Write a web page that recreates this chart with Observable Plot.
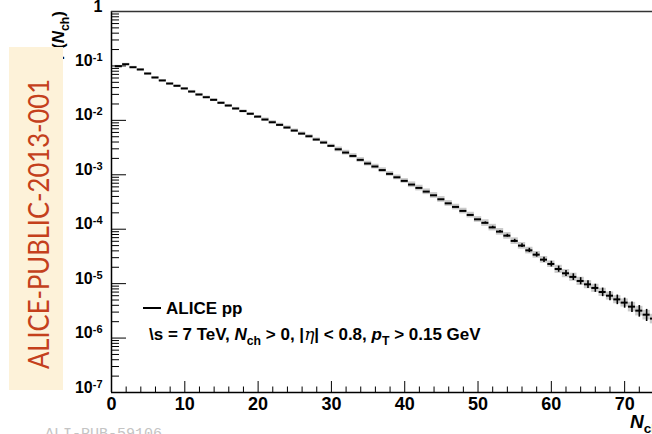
<!DOCTYPE html>
<html><head><meta charset="utf-8">
<script src="https://cdn.jsdelivr.net/npm/d3@7"></script>
<script src="https://cdn.jsdelivr.net/npm/@observablehq/plot@0.6"></script>
<style>body{margin:0;background:#fff} svg{display:block}</style>
</head><body><div id="chart"></div>
<script>
// ---- data ----
const nch = [1,2,3,4,5,6,7,8,9,10,11,12,13,14,15,16,17,18,19,20,21,22,23,24,25,26,27,28,29,30,31,32,33,34,35,36,37,38,39,40,41,42,43,44,45,46,47,48,49,50,51,52,53,54,55,56,57,58,59,60,61,62,63,64,65,66,67,68,69,70,71,72,73,74];
const prob = [0.0986,0.1074,0.0946,0.0859,0.0724,0.0612,0.0540,0.0474,0.0431,0.0385,
  0.0338,0.0298,0.0266,0.0238,0.0210,0.0187,0.0165,0.0148,0.0132,0.0117,
  0.01035,0.00923,0.00826,0.00738,0.00649,0.00571,0.00510,0.00444,0.00391,0.00340,
  0.00294,0.00256,0.00222,0.00188,0.00161,0.00142,0.00122,0.00104,0.000899,0.000773,
  0.000661,0.000574,0.000491,0.000420,0.000355,0.000299,0.000257,0.000217,0.000183,0.000152,
  0.000131,0.000108,0.0000904,0.0000762,0.0000610,0.0000500,0.0000409,0.0000341,0.0000276,0.0000230,
  0.0000186,0.0000155,0.0000133,0.0000112,0.00000971,0.00000834,0.00000703,0.00000601,0.00000514,0.00000448,
  0.00000378,0.00000319,0.00000269,0.00000228];
// relative systematic uncertainty (grey boxes)
const sysRel = [0.04,0.04,0.04,0.04,0.04,0.04,0.04,0.04,0.04,0.04,
  0.05,0.05,0.05,0.05,0.05,0.05,0.05,0.05,0.05,0.05,
  0.07,0.07,0.07,0.07,0.07,0.07,0.07,0.07,0.07,0.07,
  0.10,0.10,0.10,0.10,0.10,0.10,0.10,0.10,0.10,0.10,
  0.12,0.12,0.12,0.12,0.12,0.12,0.12,0.12,0.12,0.12,
  0.14,0.14,0.14,0.14,0.14,0.14,0.14,0.14,0.14,0.14,
  0.17,0.17,0.17,0.17,0.17,0.17,0.17,0.17,0.17,0.17,
  0.20,0.20,0.20,0.20];
// relative statistical uncertainty (vertical bars)
const statRel = [0.01,0.01,0.01,0.01,0.01,0.01,0.01,0.01,0.01,0.01,
  0.01,0.01,0.01,0.01,0.01,0.01,0.01,0.01,0.01,0.01,
  0.01,0.01,0.01,0.01,0.01,0.01,0.01,0.01,0.01,0.01,
  0.02,0.02,0.02,0.02,0.02,0.02,0.02,0.02,0.02,0.02,
  0.03,0.03,0.03,0.03,0.03,0.03,0.03,0.03,0.03,0.03,
  0.04,0.05,0.05,0.06,0.07,0.08,0.09,0.10,0.11,0.12,
  0.13,0.13,0.14,0.15,0.16,0.17,0.18,0.19,0.20,0.21,
  0.22,0.24,0.25,0.27];
const xMajorTicks = [0,10,20,30,40,50,60,70];
const xMinorTicks = [2,4,6,8,12,14,16,18,22,24,26,28,32,34,36,38,42,44,46,48,52,54,56,58,62,64,66,68,72];
const yMajorTicks = [1,1e-1,1e-2,1e-3,1e-4,1e-5,1e-6,1e-7];
const yTickBase = ["1","10","10","10","10","10","10","10"];
const yTickSup  = ["","-1","-2","-3","-4","-5","-6","-7"];
const yMinorTicks = [];
for (let e = -7; e < 0; e++) for (let k = 2; k <= 9; k++) yMinorTicks.push(k * Math.pow(10, e));

const rows = nch.map((n, i) => ({n, p: prob[i], sys: sysRel[i], stat: statRel[i]}));

const FONT = "'Liberation Sans', Arial, Helvetica, sans-serif";
const plot = Plot.plot({
  width: 652, height: 434,
  marginLeft: 111, marginRight: 0, marginTop: 11, marginBottom: 42,
  x: {domain: [0, 73.8], label: null},
  y: {type: "log", domain: [1e-7, 1], label: null},
  style: {fontFamily: FONT, background: "white", overflow: "visible"},
  marks: [
    Plot.rect(rows, {x1: d => d.n - 0.5, x2: d => d.n + 0.5, y1: d => d.p * (1 - d.sys), y2: d => d.p * (1 + d.sys), fill: "#cbcbcb", clip: true}),
    Plot.ruleX(rows.filter(d => d.n > 50), {x: "n", y1: d => d.p * (1 - d.stat), y2: d => d.p * (1 + d.stat), stroke: "black", strokeWidth: 1.6, clip: true}),
    Plot.ruleY(rows, {x1: d => d.n - 0.48, x2: d => d.n + 0.48, y: "p", stroke: "black", strokeWidth: 2, clip: true}),
    // axes: inward ticks
    Plot.axisY({ticks: yMajorTicks, tickSize: -15, text: null, stroke: "black", strokeWidth: 1}),
    Plot.axisY({ticks: yMinorTicks, tickSize: -8, text: null, stroke: "black", strokeWidth: 1}),
    Plot.axisY({ticks: yMajorTicks, tickSize: 0, tickPadding: 5, tickFormat: (d, i) => yTickBase[i] + yTickSup[i], fontSize: 16, fontWeight: "bold", fill: "black", label: null}),
    Plot.axisX({ticks: xMajorTicks, tickSize: -11, text: null, stroke: "black", strokeWidth: 1}),
    Plot.axisX({ticks: xMinorTicks, tickSize: -5.5, text: null, stroke: "black", strokeWidth: 1}),
    Plot.axisX({ticks: xMajorTicks, tickSize: 0, tickPadding: 5, tickFormat: d => String(d), fontSize: 18, fontWeight: "bold", fill: "black", label: null}),
    Plot.ruleX([0], {stroke: "black", strokeWidth: 1.5}),
    Plot.ruleY([1e-7], {stroke: "black", strokeWidth: 1.5}),
    Plot.ruleY([1], {stroke: "#333", strokeWidth: 1.5})
  ]
});
document.getElementById("chart").appendChild(plot);

const svg = d3.select(plot);
// superscript exponents on y tick labels
svg.selectAll('g[aria-label="y-axis tick label"] text').each(function(_, i) {
  const t = d3.select(this);
  t.text(null).attr("font-size", 16).attr("font-weight", "bold").attr("font-family", FONT).attr("text-anchor", "end");
  t.append("tspan").text(yTickBase[i]);
  if (yTickSup[i]) t.append("tspan").attr("dy", "-0.45em").attr("font-size", "11px").text(yTickSup[i]);
});

function richText(parent, x, y, runs, opts = {}) {
  const t = parent.append("text").attr("x", x).attr("y", y)
    .attr("font-family", opts.family || FONT).attr("font-weight", "bold")
    .attr("font-size", opts.size || 15).attr("fill", opts.fill || "black")
    .attr("text-anchor", opts.anchor || "start");
  if (opts.transform) t.attr("transform", opts.transform);
  let shift = 0;
  for (const r of runs) {
    const s = t.append("tspan").text(r.t);
    const target = r.sub ? 4.5 : 0;
    if (target !== shift) { s.attr("dy", target - shift); shift = target; }
    if (r.sub) s.attr("font-size", "0.72em");
    if (r.it) s.attr("font-style", "italic");
    if (r.serif) s.attr("font-family", "'DejaVu Serif', 'Liberation Serif', serif").attr("font-weight", "normal");
  }
  return t;
}

// y-axis title (mostly hidden behind the label box)
richText(svg, 0, 0, [{t: "P("}, {t: "N", it: true}, {t: "ch", sub: true}, {t: ")"}],
  {anchor: "end", transform: "translate(64,11) rotate(-90)", size: 17});

// x-axis title
richText(svg, 630, 428, [{t: "N", it: true}, {t: "ch", sub: true}], {size: 19});

// legend
svg.append("line").attr("x1", 143).attr("x2", 161).attr("y1", 308).attr("y2", 308)
  .attr("stroke", "black").attr("stroke-width", 2);
richText(svg, 166, 314, [{t: "ALICE pp"}], {size: 17});
richText(svg, 149, 340, [
  {t: "\\s = 7 TeV, "}, {t: "N", it: true}, {t: "ch", sub: true}, {t: " > 0, |"},
  {t: "η", it: true, serif: true}, {t: "| < 0.8, "}, {t: "p", it: true}, {t: "T", sub: true},
  {t: " > 0.15 GeV"}], {size: 17});

// ALICE-PUBLIC label box
svg.append("rect").attr("x", 9).attr("y", 47).attr("width", 54).attr("height", 343).attr("fill", "#fdf2d9");
svg.append("text").attr("transform", "translate(38,224) rotate(-90)")
  .attr("text-anchor", "middle").attr("dominant-baseline", "central")
  .attr("font-family", "Lato, 'Open Sans', sans-serif").attr("font-size", 28)
  .attr("fill", "#c4401c").attr("textLength", 290).attr("lengthAdjust", "spacingAndGlyphs")
  .text("ALICE-PUBLIC-2013-001");

// figure id
svg.append("text").attr("x", 45).attr("y", 438).attr("text-anchor", "start").attr("font-family", "'Liberation Mono', monospace")
  .attr("font-size", 15).attr("fill", "#c4c4c4").text("ALI-PUB-59106");
</script>
</body></html>
